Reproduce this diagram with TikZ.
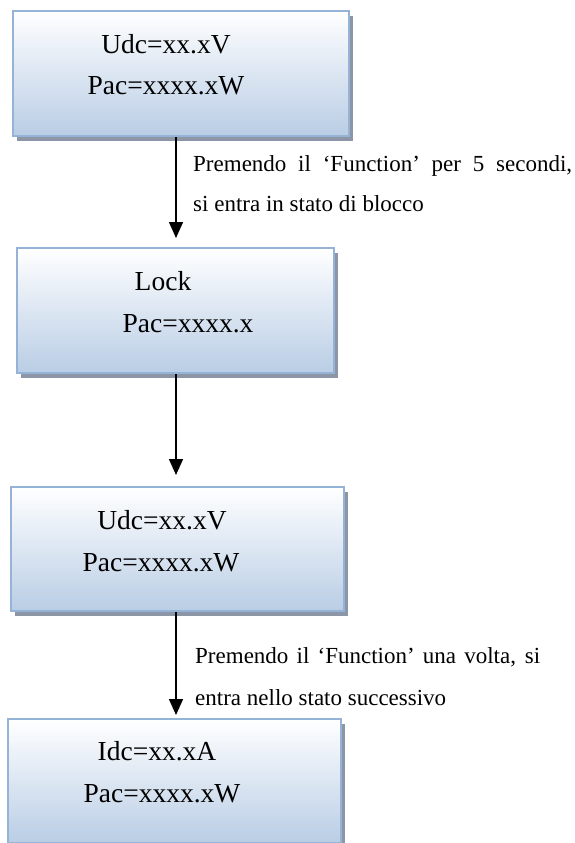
\documentclass[tikz,border=0pt]{standalone}
\usepackage{fontspec}
\setmainfont{Liberation Serif}
\usetikzlibrary{arrows.meta,shadows,calc}
\definecolor{bfill}{HTML}{B9CDE5}
\definecolor{bline}{HTML}{95B3D7}
\definecolor{shad}{HTML}{8C96A6}
\begin{document}
\begin{tikzpicture}[x=1pt,y=-1pt,
 stbox/.style={draw=bline, line width=2pt, top color=white, bottom color=bfill, anchor=north west, inner sep=0pt,
   drop shadow={shadow xshift=4pt, shadow yshift=-5pt, fill=shad, opacity=1}},
 btext/.style={anchor=base, font=\fontsize{27.5}{30}\selectfont, inner sep=0pt},
 ltext/.style={anchor=base west, font=\fontsize{23}{26}\selectfont, inner sep=0pt},
 arr/.style={line width=1.5pt, -{Triangle[width=14pt,length=16pt]}}]
\useasboundingbox (0,0) rectangle (575,843);
\clip (0,0) rectangle (575,843);
\node[stbox, minimum width=336pt, minimum height=125pt] (b1) at (12,10) {};
\node[stbox, minimum width=317pt, minimum height=125pt] (b2) at (16,247) {};
\node[stbox, minimum width=333pt, minimum height=124pt] (b3) at (10,486) {};
\node[stbox, minimum width=333pt, minimum height=124pt] (b4) at (7,718) {};
\node[btext] (t1a) at (166,53) {Udc=xx.xV};
\node[btext] (t1b) at (166,95) {Pac=xxxx.xW};
\node[btext] (t2a) at (163,290) {Lock};
\node[btext] (t2b) at (188,332) {Pac=xxxx.x};
\node[btext] (t3a) at (162,529) {Udc=xx.xV};
\node[btext] (t3b) at (161,571) {Pac=xxxx.xW};
\node[btext] (t4a) at (157,760) {Idc=xx.xA};
\node[btext] (t4b) at (162,802) {Pac=xxxx.xW};
\node[ltext] (l1a) at (193,171) {\makebox[379pt][s]{Premendo il ‘Function’ per 5 secondi,}};
\node[ltext] (l1b) at (193,211) {si entra in stato di blocco};
\node[ltext] (l2a) at (195,663) {\makebox[345pt][s]{Premendo il ‘Function’ una volta, si}};
\node[ltext] (l2b) at (195,705) {entra nello stato successivo};
\coordinate (ax) at (176,0);
\draw[arr] (b1.south -| ax) -- ($(b2.north -| ax)+(0,-9)$);
\draw[arr] (b2.south -| ax) -- ($(b3.north -| ax)+(0,-11)$);
\draw[arr] (b3.south -| ax) -- ($(b4.north -| ax)+(0,-3)$);
\end{tikzpicture}
\end{document}
